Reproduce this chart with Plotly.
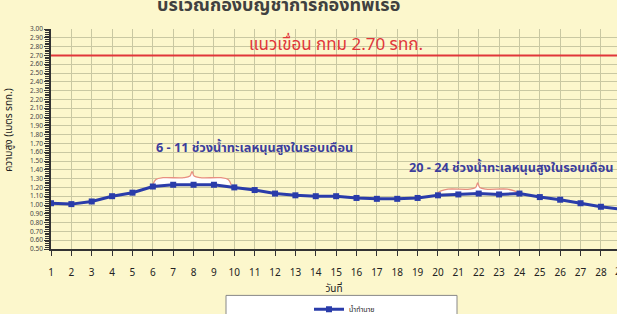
import plotly.graph_objects as go

days = list(range(1, 30))
water_level = [1.02, 1.01, 1.04, 1.10, 1.14, 1.21, 1.23, 1.23, 1.23, 1.20,
               1.17, 1.13, 1.11, 1.10, 1.10, 1.08, 1.07, 1.07, 1.08, 1.11,
               1.12, 1.13, 1.12, 1.13, 1.09, 1.06, 1.02, 0.98, 0.95]
series_name = "น้ำทำนาย"
dike_level = 2.70
dike_label = "แนวเขื่อน กทม 2.70 รทก."
note1 = "6 - 11 ช่วงน้ำทะเลหนุนสูงในรอบเดือน"
note2 = "20 - 24 ช่วงน้ำทะเลหนุนสูงในรอบเดือน"
title_text = "บริเวณกองบัญชาการกองทัพเรือ"
y_title = "ความสูง (เมตร รทก.)"
x_title = "วันที่"
y_ticks = [round(0.5 + 0.1 * i, 2) for i in range(26)]

BG = "#fcf7cc"
GRID = "#c9c8a2"
BLUE = "#2a3caa"
RED = "#e0363a"
NOTE = "#3b3d9c"
FONT = "Noto Sans Thai, Tahoma, Noto Sans, sans-serif"

PL, PT, PB = 51, 29, 249.5   # plot area pixel edges
PW, PH = 617 - PL, PB - PT


def px_x(p):
    return (p - PL) / PW


def px_y(p):
    return (PB - p) / PH


fig = go.Figure()


def brace(x0, x1, ybase, ytop, yend):
    xm = (x0 + x1) / 2
    xs = [x0, x0 + 0.15, x0 + 0.5, xm - 0.4, xm - 0.1, xm, xm + 0.1, xm + 0.4, x1 - 0.5, x1 - 0.15, x1]
    ys = [yend, ybase - 0.02, ybase, ybase, ybase + 0.02, ytop, ybase + 0.02, ybase, ybase, ybase - 0.02, yend]
    return xs, ys


for (x0, x1, yb, yt, ye) in [(6.0, 9.85, 1.31, 1.38, 1.23), (20.0, 23.9, 1.18, 1.25, 1.14)]:
    xs, ys = brace(x0, x1, yb, yt, ye)
    fig.add_trace(go.Scatter(x=xs, y=ys, mode="lines", line=dict(color="#e89080", width=1.3, shape="spline"),
                             fill="toself", fillcolor="white", showlegend=False, hoverinfo="skip"))

fig.add_trace(go.Scatter(x=[1, 29], y=[dike_level, dike_level], mode="lines",
                         line=dict(color=RED, width=2), showlegend=False, hoverinfo="skip"))

fig.add_trace(go.Scatter(x=days, y=water_level, mode="lines+markers", name=series_name,
                         line=dict(color=BLUE, width=3),
                         marker=dict(symbol="square", size=6, color=BLUE)))

fig.add_annotation(x=15.0, y=2.82, xref="x", yref="y", text=dike_label, showarrow=False,
                   font=dict(size=17, color=RED, family=FONT))
fig.add_annotation(x=11.0, y=1.65, xref="x", yref="y", text="<b>" + note1 + "</b>", showarrow=False,
                   font=dict(size=12.7, color=NOTE, family=FONT))
fig.add_annotation(x=18.5, y=1.28, xref="x", yref="y", xanchor="left", text="<b>" + note2 + "</b>",
                   showarrow=False, yanchor="bottom", font=dict(size=12.7, color=NOTE, family=FONT))
fig.add_annotation(x=px_x(278), y=px_y(21), xref="paper", yref="paper", yanchor="bottom",
                   text="<b>" + title_text + "</b>", showarrow=False,
                   font=dict(size=18, color="#404040", family=FONT))
fig.add_annotation(x=px_x(621.4), y=px_y(273), xref="paper", yref="paper",
                   xanchor="center", yanchor="middle",
                   text="29", showarrow=False, font=dict(size=10, color="#222", family=FONT))
# y-axis title
fig.add_annotation(x=px_x(9), y=px_y(130), xref="paper", yref="paper", textangle=-90,
                   xanchor="center", yanchor="middle",
                   text=y_title, showarrow=False, font=dict(size=10, color="#222", family=FONT))

# legend box
fig.add_shape(type="rect", xref="paper", yref="paper", x0=px_x(226), x1=px_x(457),
              y0=px_y(330), y1=px_y(296), fillcolor="white", line=dict(color="#888", width=1))

fig.update_layout(
    width=617, height=314,
    margin=dict(l=PL, r=0, t=PT, b=314 - PB, autoexpand=False),
    paper_bgcolor=BG, plot_bgcolor=BG,
    font=dict(family=FONT, color="#222"),
    showlegend=True,
    legend=dict(x=px_x(309), y=px_y(310), xanchor="left", yanchor="middle",
                bgcolor="rgba(0,0,0,0)", font=dict(size=7), itemwidth=30,
                tracegroupgap=0),
    xaxis=dict(range=[1, 28.79], tickmode="array", tickvals=days, ticktext=[str(d) for d in days],
               showgrid=True, gridcolor=GRID, gridwidth=1, zeroline=False, automargin=False,
               showline=True, linecolor="#333", linewidth=1.5,
               ticks="outside", ticklen=5, tickcolor="#333",
               tickfont=dict(size=10, color="#222"), ticklabelstandoff=8,
               title=dict(text=x_title, font=dict(size=10, color="#222"), standoff=0)),
    yaxis=dict(range=[0.5, 3.0], tickmode="array", tickvals=y_ticks,
               ticktext=[f"{v:.2f}" for v in y_ticks],
               showgrid=True, gridcolor=GRID, gridwidth=1, zeroline=False, automargin=False,
               showline=True, linecolor="#333", linewidth=1.5,
               ticks="outside", ticklen=5, tickcolor="#333",
               minor=dict(ticks="outside", ticklen=4, dtick=0.02, tickcolor="#333", showgrid=False),
               tickfont=dict(size=6.5, color="#444")),
)

fig.write_html("out.html", config={"displayModeBar": False},
               post_script="document.body.style.margin='0';document.body.style.background='" + BG + "';")
